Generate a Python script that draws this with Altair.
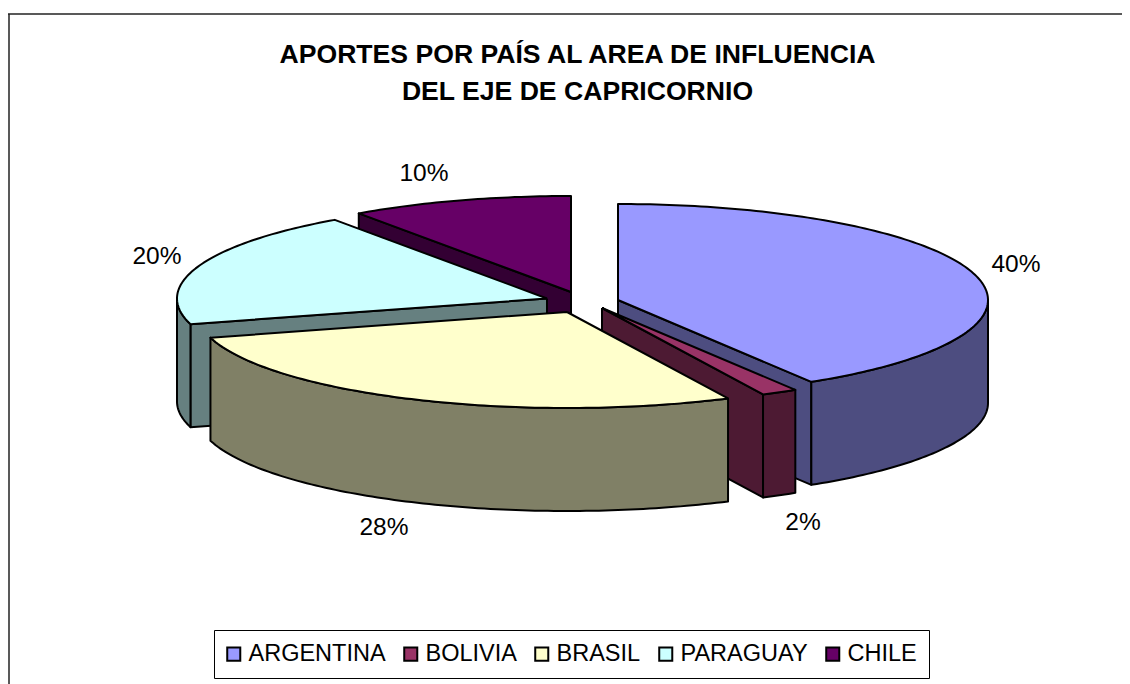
import math
import altair as alt
import pandas as pd

# ---- values ----
countries = ["ARGENTINA", "BOLIVIA", "BRASIL", "PARAGUAY", "CHILE"]
shares = [40, 2, 28, 20, 10]
top_colors = ["#9999FF", "#993366", "#FFFFCC", "#CCFFFF", "#660066"]
side_colors = ["#4D4D80", "#4D1A33", "#808066", "#668080", "#330033"]
# how far the 3-D tilt shifts each slice boundary, in degrees
tilt_shift = [0, 4.5, 3.0, 2.5, 1.0, 0]
# slice apex after the explosion, in picture units
apex_x = [618, 602, 567, 547, 571]
apex_y = [300, 308, 312, 298.5, 292]
radius_x = 370
radius_y = 96
depth = 103
draw_order = [4, 3, 0, 1, 2]

title_lines = ["APORTES POR PAÍS AL AREA DE INFLUENCIA", "DEL EJE DE CAPRICORNIO"]
title_x = [577.5, 577.5]
title_y = [63, 100]
label_text = ["40%", "2%", "28%", "20%", "10%"]
label_x = [1016, 803, 384, 157, 424]
label_y = [272, 530, 535, 264, 181]

# ---- slice geometry ----
cum = [0]
for s in shares:
    cum.append(cum[-1] + s)
edges = [c * 3.6 + w for c, w in zip(cum, tilt_shift)]


def pt(i, deg, drop=0):
    t = math.radians(deg)
    return (apex_x[i] + radius_x * math.sin(t), apex_y[i] - radius_y * math.cos(t) + drop)


def arc(i, a, b, drop=0):
    n = max(2, int(abs(b - a)) + 1)
    return [pt(i, a + (b - a) * k / n, drop) for k in range(n + 1)]


rows = []


def add(name, key, pts):
    pts = pts + [pts[0]]
    for k, (x, y) in enumerate(pts):
        rows.append({"poly": name, "key": key, "k": k, "x": x, "y": y})


for g, i in enumerate(draw_order):
    a, b = edges[i], edges[i + 1]
    cen = (apex_x[i], apex_y[i])
    side = countries[i] + " lado"
    # flat cut face that looks toward the viewer
    if i in (0, 1):
        e = pt(i, b)
        add(f"{g}a", side, [cen, e, (e[0], e[1] + depth), (cen[0], cen[1] + depth)])
    if i in (3, 4):
        e = pt(i, a)
        add(f"{g}a", side, [cen, e, (e[0], e[1] + depth), (cen[0], cen[1] + depth)])
    # curved outer wall, front half of the ellipse only
    lo, hi = max(a, 90), min(b, 270)
    if lo < hi:
        add(f"{g}b", side, arc(i, lo, hi) + arc(i, hi, lo, depth))
    # top face
    add(f"{g}c", countries[i], [cen] + arc(i, a, b))

df = pd.DataFrame(rows)

x_scale = alt.Scale(domain=[8, 1122], range=[0, 1114], nice=False, zero=False)
y_scale = alt.Scale(domain=[8, 684], range=[0, 676], nice=False, zero=False)
X = lambda f: alt.X(f, scale=x_scale, axis=None)
Y = lambda f: alt.Y(f, scale=y_scale, axis=None)

domain = countries + [c + " lado" for c in countries]
rng = top_colors + side_colors

slices = alt.Chart(df).mark_line(stroke="black", strokeWidth=2, strokeJoin="round").encode(
    x=X("x:Q"),
    y=Y("y:Q"),
    detail="poly:N",
    order="k:Q",
    fill=alt.Fill(
        "key:N",
        scale=alt.Scale(domain=domain, range=rng),
        legend=alt.Legend(
            values=countries,
            title=None,
            orient="none",
            legendX=206,
            legendY=622,
            direction="horizontal",
            columns=5,
            symbolType="square",
            symbolSize=170,
            symbolOffset=-4,
            symbolStrokeColor="black",
            symbolStrokeWidth=2,
            labelFont="Liberation Sans",
            labelFontSize=23.5,
            labelColor="black",
            labelLimit=300,
            labelOffset=3,
            columnPadding=14,
            strokeColor="black",
            fillColor="white",
            padding=12,
        ),
    ),
)

frame_h = alt.Chart(pd.DataFrame({"y": [14], "x": [8], "x2": [1122]})).mark_rule(
    color="#222222", strokeWidth=1.5
).encode(x=X("x:Q"), x2="x2:Q", y=Y("y:Q"))
frame_v = alt.Chart(pd.DataFrame({"x": [9], "y": [14], "y2": [684]})).mark_rule(
    color="#222222", strokeWidth=1.5
).encode(x=X("x:Q"), y=Y("y:Q"), y2="y2:Q")

title = alt.Chart(pd.DataFrame({"t": title_lines, "x": title_x, "y": title_y})).mark_text(
    font="Liberation Sans", fontWeight="bold", fontSize=26.6, color="black", align="center", baseline="alphabetic"
).encode(x=X("x:Q"), y=Y("y:Q"), text="t:N")

labels = alt.Chart(pd.DataFrame({"t": label_text, "x": label_x, "y": label_y})).mark_text(
    font="Liberation Sans", fontSize=24.5, color="black", align="center", baseline="alphabetic"
).encode(x=X("x:Q"), y=Y("y:Q"), text="t:N")

chart = (
    alt.layer(frame_h, frame_v, slices, title, labels)
    .properties(
        width=1114,
        height=676,
        padding=0,
        autosize=alt.AutoSizeParams(type="none"),
        background="white",
    )
    .configure_view(stroke=None)
)

chart.save("out.html", embed_options={"renderer": "svg", "actions": False})
